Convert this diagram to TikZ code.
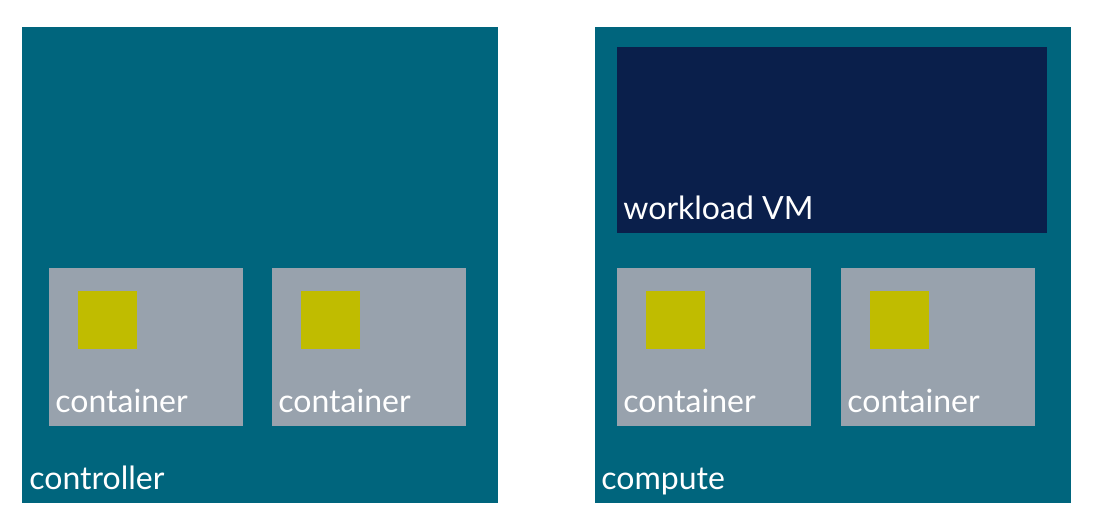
\documentclass[tikz,border=0pt]{standalone}
\usepackage{fontspec}
\setmainfont{Lato}
\usetikzlibrary{positioning}
\usepackage{xcolor}
\definecolor{hostcolor}{HTML}{00657D}
\definecolor{vmcolor}{HTML}{0A1F4B}
\definecolor{ctrcolor}{HTML}{98A2AD}
\definecolor{procolor}{HTML}{C0BC00}
\newcommand{\px}{0.5pt}
\tikzset{
  hostbox/.style={fill=hostcolor,anchor=north west,inner sep=0pt,minimum width=476*\px,minimum height=476*\px},
  vmbox/.style={fill=vmcolor,anchor=north west,inner sep=0pt,minimum width=430*\px,minimum height=186*\px},
  ctrbox/.style={fill=ctrcolor,anchor=north west,inner sep=0pt,minimum width=194*\px,minimum height=158*\px},
  probox/.style={fill=procolor,anchor=north west,inner sep=0pt,minimum width=59*\px,minimum height=58*\px},
  boxlabel/.style={text=white,anchor=base west,inner sep=0pt,font=\fontsize{16}{19}\selectfont}
}
% container with its process square and label
\newcommand{\prcontainer}[3]{
  \node[ctrbox] (#1) at (#2,#3) {};
  \node[probox] (#1-p) at (#2+29,#3+23) {};
  \node[boxlabel] (#1-l) at (#2+6,#3+145) {container};
}

\begin{document}
\begin{tikzpicture}[x=0.5pt,y=-0.5pt]
        \useasboundingbox (0,0) rectangle (1098,523);

\node[hostbox] (controller) at (22,27) {};
\node[boxlabel] (controller-l) at (29,490) {controller};
        \prcontainer{c1}{49}{268}
        \prcontainer{c2}{272}{268}

\node[hostbox] (compute) at (595,27) {};
\node[boxlabel] (compute-l) at (601,490) {compute};
\node[vmbox] (vm) at (617,47) {};
\node[boxlabel] (vm-l) at (623,220) {workload VM};
        \prcontainer{c3}{617}{268}
        \prcontainer{c4}{841}{268}

    \end{tikzpicture}
\end{document}
